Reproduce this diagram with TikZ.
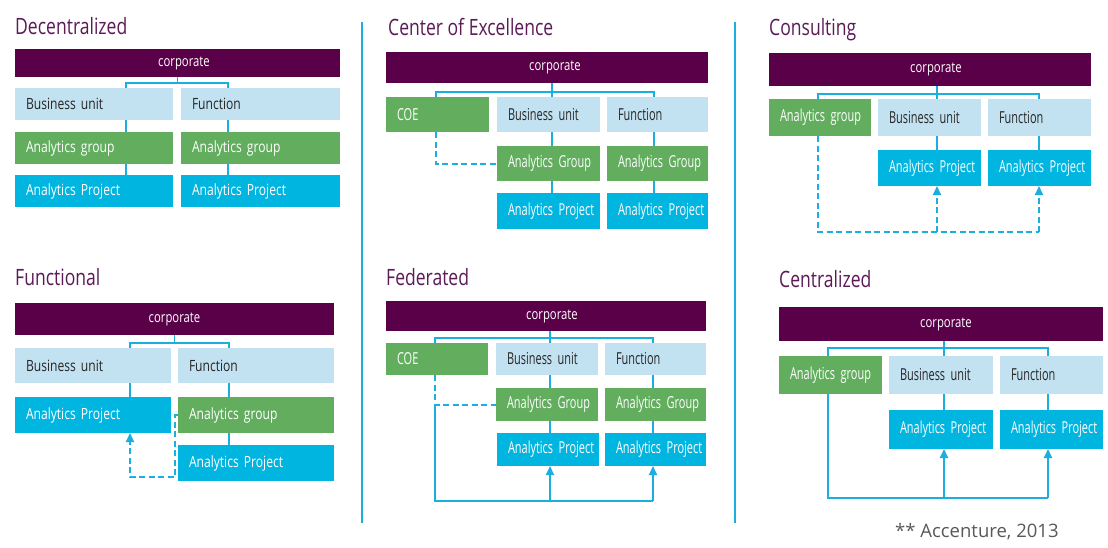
\documentclass[tikz,border=0pt]{standalone}
\usepackage{fontspec}
\setmainfont{Open Sans}
\newfontfamily\condfont[FakeStretch=0.78]{Open Sans}
\newfontfamily\narrowfont[FakeStretch=0.665]{Open Sans}
\usepackage{xcolor}
\definecolor{OrgPurple}{HTML}{590048}
\definecolor{OrgTitle}{HTML}{5C1A57}
\definecolor{OrgPale}{HTML}{C3E2F1}
\definecolor{OrgGreen}{HTML}{62AE5E}
\definecolor{OrgCyan}{HTML}{00B5E0}
\definecolor{OrgLine}{HTML}{1AAFE0}
\definecolor{OrgNote}{HTML}{595959}
\usepackage{tikz}
\usetikzlibrary{arrows.meta,backgrounds}

% box from (x1,y1) to (x2,y2), text set left
\newcommand{\orgbox}[7]{%
  \pgfmathsetmacro{\obh}{#6-#4}\pgfmathsetmacro{\obw}{#5-#3-22}%
  \node[#1,anchor=north west,minimum height=\obh pt,text width=\obw pt] (#2) at (#3,#4) {\mbox{#7}};}

\begin{document}
\begin{tikzpicture}[
  x=1pt,y=-1pt,
  unit/.style={rectangle,inner xsep=11pt,inner ysep=0pt,outer sep=0pt,align=left,
    font=\condfont\fontsize{15.5}{18}\selectfont},
  tight/.style={font=\narrowfont\fontsize{16.5}{19}\selectfont},
  corp/.style={unit,fill=OrgPurple,text=white,align=center,
    font=\condfont\fontsize{14.5}{17}\selectfont},
  pale/.style={unit,fill=OrgPale,text=black!85},
  grp/.style={unit,fill=OrgGreen,text=white},
  proj/.style={unit,fill=OrgCyan,text=white},
  heading/.style={anchor=base west,inner sep=0pt,text=OrgTitle,
    font=\condfont\fontsize{22.5}{26}\selectfont},
  link/.style={draw=OrgLine,line width=1.8pt},
  dashlink/.style={link,dash pattern=on 6pt off 3.5pt},
  tip/.style={-{Triangle[width=8pt,length=9pt]}}
]
  \useasboundingbox (0,0) rectangle (1108,547);

  % Decentralized
  \node[heading] (t1) at (15,34) {Decentralized};
  \orgbox{corp}{corp1}{15}{49}{340}{77}{\hspace*{13pt}corporate}
  \orgbox{pale}{bu1}{15}{88}{173}{120}{Business unit}
  \orgbox{pale}{fn1}{181}{88}{340}{120}{Function}
  \orgbox{grp}{ag1a}{15}{132}{173}{164}{Analytics group}
  \orgbox{grp}{ag1b}{181}{132}{340}{164}{Analytics group}
  \orgbox{proj}{ap1a}{15}{175}{173}{207}{Analytics Project}
  \orgbox{proj}{ap1b}{181}{175}{340}{207}{Analytics Project}

  % Center of Excellence
  \node[heading] (t2) at (388,35) {Center of Excellence};
  \orgbox{corp}{corp2}{386}{52}{708}{83}{\hspace*{16pt}corporate}
  \orgbox{grp,tight}{coe2}{386}{97}{489}{132}{COE}
  \orgbox{pale,tight}{bu2}{497}{97}{600}{132}{Business unit}
  \orgbox{pale,tight}{fn2}{607}{97}{708}{132}{Function}
  \orgbox{grp,tight}{ag2a}{497}{146}{600}{181}{Analytics Group}
  \orgbox{grp,tight}{ag2b}{607}{146}{708}{181}{Analytics Group}
  \orgbox{proj,tight}{ap2a}{497}{193}{600}{229}{Analytics Project}
  \orgbox{proj,tight}{ap2b}{607}{193}{708}{229}{Analytics Project}

  % Consulting
  \node[heading] (t3) at (769,35) {Consulting};
  \orgbox{corp}{corp3}{769}{53}{1091}{86}{\hspace*{12pt}corporate}
  \orgbox{grp,tight}{ag3}{769}{99}{871}{136}{Analytics group}
  \orgbox{pale,tight}{bu3}{878}{99}{981}{136}{Business unit}
  \orgbox{pale,tight}{fn3}{988}{99}{1091}{136}{Function}
  \orgbox{proj,tight}{ap3a}{878}{150}{981}{186}{Analytics Project}
  \orgbox{proj,tight}{ap3b}{988}{150}{1091}{186}{Analytics Project}

  % Functional
  \node[heading] (t4) at (15,285) {Functional};
  \orgbox{corp}{corp4}{15}{303}{334}{335}{corporate}
  \orgbox{pale}{bu4}{15}{348}{171}{383}{Business unit}
  \orgbox{pale}{fn4}{178}{348}{334}{383}{Function}
  \orgbox{proj}{ap4a}{15}{397}{171}{433}{Analytics Project}
  \orgbox{grp}{ag4}{178}{397}{334}{433}{Analytics group}
  \orgbox{proj}{ap4b}{178}{445}{334}{481}{Analytics Project}

  % Federated
  \node[heading] (t5) at (386,285) {Federated};
  \orgbox{corp}{corp5}{386}{301}{706}{331}{\hspace*{12pt}corporate}
  \orgbox{grp,tight}{coe5}{386}{343}{488}{375}{COE}
  \orgbox{pale,tight}{bu5}{496}{343}{598}{375}{Business unit}
  \orgbox{pale,tight}{fn5}{605}{343}{706}{375}{Function}
  \orgbox{grp,tight}{ag5a}{496}{388}{598}{421}{Analytics Group}
  \orgbox{grp,tight}{ag5b}{605}{388}{706}{421}{Analytics Group}
  \orgbox{proj,tight}{ap5a}{497}{433}{599}{466}{Analytics Project}
  \orgbox{proj,tight}{ap5b}{605}{433}{706}{466}{Analytics Project}

  % Centralized
  \node[heading] (t6) at (779,287) {Centralized};
  \orgbox{corp}{corp6}{779}{307}{1103}{341}{\hspace*{10pt}corporate}
  \orgbox{grp,tight}{ag6}{779}{356}{882}{394}{Analytics group}
  \orgbox{pale,tight}{bu6}{889}{356}{993}{394}{Business unit}
  \orgbox{pale,tight}{fn6}{1000}{356}{1103}{394}{Function}
  \orgbox{proj,tight}{ap6a}{889}{410}{993}{449}{Analytics Project}
  \orgbox{proj,tight}{ap6b}{1000}{410}{1103}{449}{Analytics Project}

  \node[anchor=base west,inner sep=0pt,text=OrgNote,font=\fontsize{18.5}{22}\selectfont]
    (note) at (895,537) {** Accenture, 2013};

  % branch points
  \coordinate (k1a) at (126,83);  \coordinate (k1b) at (228,83);
  \coordinate (k2g) at (436,92);  \coordinate (k2a) at (552,92);  \coordinate (k2b) at (654,92);
  \coordinate (k3g) at (818,94);  \coordinate (k3a) at (937,94);  \coordinate (k3b) at (1039,94);
  \coordinate (k4a) at (130,343); \coordinate (k4b) at (229,343);
  \coordinate (k5g) at (435,338); \coordinate (k5a) at (550,338); \coordinate (k5b) at (653,338);
  \coordinate (k6g) at (828,348); \coordinate (k6a) at (944,348); \coordinate (k6b) at (1048,348);
  \coordinate (s2) at (0,164);
  \coordinate (s3) at (0,232);
  \coordinate (s4) at (130,477);
  \coordinate (s5) at (0,405);
  \coordinate (b5) at (0,501);
  \coordinate (s6) at (0,498);

  \begin{scope}[on background layer]
    \fill[white] (0,0) rectangle (1108,547);
    \draw[OrgLine,line width=1.5pt] (362,22) -- (362,523);
    \draw[OrgLine,line width=1.5pt] (735,22) -- (735,523);

    \draw[link] (bu1.north -| k1a) |- (k1b) -- (fn1.north -| k1b);
    \draw[link] (corp1.south) -- (corp1.south |- k1a);
    \draw[link] (bu1.south -| k1a) -- (ap1a.north -| k1a);
    \draw[link] (fn1.south -| k1b) -- (ap1b.north -| k1b);

    \draw[link] (coe2.north -| k2g) |- (k2b) -- (fn2.north -| k2b);
    \draw[link] (corp2.south -| k2a) -- (ap2a.north -| k2a);
    \draw[link] (fn2.south -| k2b) -- (ap2b.north -| k2b);
    \draw[dashlink] (coe2.south -| k2g) |- (ag2a.west |- s2);

    \draw[link] (ag3.north -| k3g) |- (k3b) -- (fn3.north -| k3b);
    \draw[link] (corp3.south -| k3a) -- (ap3a.north -| k3a);
    \draw[link] (fn3.south -| k3b) -- (ap3b.north -| k3b);
    \draw[dashlink] (ag3.south -| k3g) |- (s3 -| k3b);
    \draw[dashlink,tip] (s3 -| k3a) -- (ap3a.south -| k3a);
    \draw[dashlink,tip] (s3 -| k3b) -- (ap3b.south -| k3b);

    \draw[link] (bu4.north -| k4a) |- (k4b) -- (fn4.north -| k4b);
    \draw[link] (corp4.south) -- (corp4.south |- k4a);
    \draw[link] (bu4.south -| k4a) -- (ap4a.north -| k4a);
    \draw[link] (fn4.south -| k4b) -- (ap4b.north -| k4b);
    \draw[dashlink,tip] (ag4.west) -- ++(-3,0) |- (s4) -- (ap4a.south -| s4);

    \draw[link] (coe5.north -| k5g) |- (k5b) -- (fn5.north -| k5b);
    \draw[link] (corp5.south -| k5a) -- (ap5a.north -| k5a);
    \draw[link] (fn5.south -| k5b) -- (ap5b.north -| k5b);
    \draw[dashlink] (coe5.south -| k5g) |- (ag5a.west |- s5);
    \draw[link] (s5 -| k5g) |- (b5 -| k5b);
    \draw[link,tip] (b5 -| k5a) -- (ap5a.south -| k5a);
    \draw[link,tip] (b5 -| k5b) -- (ap5b.south -| k5b);

    \draw[link] (ag6.north -| k6g) |- (k6b) -- (fn6.north -| k6b);
    \draw[link] (corp6.south -| k6a) -- (ap6a.north -| k6a);
    \draw[link] (fn6.south -| k6b) -- (ap6b.north -| k6b);
    \draw[link] (ag6.south -| k6g) |- (s6 -| k6b);
    \draw[link,tip] (s6 -| k6a) -- (ap6a.south -| k6a);
    \draw[link,tip] (s6 -| k6b) -- (ap6b.south -| k6b);
  \end{scope}
\end{tikzpicture}
\end{document}
